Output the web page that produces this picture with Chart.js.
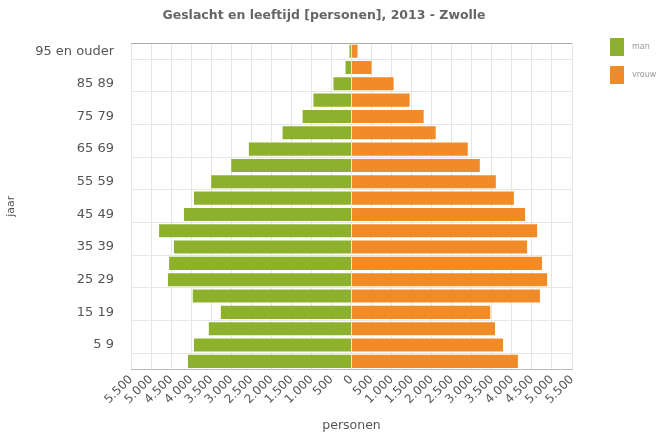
<!DOCTYPE html>
<html>
<head>
<meta charset="utf-8">
<script src="https://cdn.jsdelivr.net/npm/chart.js@4/dist/chart.umd.min.js"></script>
<style>
  html, body { margin: 0; padding: 0; background: #fff; }
  #wrap { width: 665px; height: 436px; }
</style>
</head>
<body>
<div id="wrap"><canvas id="chart1"></canvas></div>
<script>
// leeftijdsgroepen, van jong naar oud
var ageGroups = ['0 4', '5 9', '10 14', '15 19', '20 24', '25 29', '30 34', '35 39', '40 44', '45 49',
  '50 54', '55 59', '60 64', '65 69', '70 74', '75 79', '80 84', '85 89', '90 94', '95 en ouder']
var men = [4080, 3930, 3560, 3260, 3960, 4580, 4550, 4430, 4800, 4180,
  3930, 3500, 3000, 2560, 1720, 1220, 950, 450, 150, 50]
var women = [4150, 3780, 3580, 3460, 4700, 4880, 4750, 4380, 4630, 4330,
  4050, 3600, 3200, 2900, 2100, 1800, 1450, 1050, 500, 150]
var xTicks = [-5500, -5000, -4500, -4000, -3500, -3000, -2500, -2000, -1500, -1000, -500, 0,
  500, 1000, 1500, 2000, 2500, 3000, 3500, 4000, 4500, 5000, 5500]

var fmt = function (v) {
  return Math.abs(v).toString().replace(/\B(?=(\d{3})+(?!\d))/g, '.')
}

var data1 = {
  labels: ageGroups,
  datasets: [
    {
      label: 'man',
      data: men.map(function (v) { return -v }),
      backgroundColor: '#8db12c',
      borderWidth: 0,
      barPercentage: 0.8,
      categoryPercentage: 1
    },
    {
      label: 'vrouw',
      data: women,
      backgroundColor: '#f18b28',
      borderWidth: 0,
      barPercentage: 0.8,
      categoryPercentage: 1
    }
  ]
}

// legenda rechts + lijn boven het plotgebied
var extras = {
  id: 'extras',
  afterDraw: function (chart) {
    var c = chart.ctx
    var a = chart.chartArea
    c.save()
    c.strokeStyle = '#aaa'
    c.lineWidth = 1
    c.beginPath()
    c.moveTo(a.left, a.top + 0.5)
    c.lineTo(a.right, a.top + 0.5)
    c.stroke()
    c.font = '8px "DejaVu Sans"'
    c.textBaseline = 'middle'
    chart.data.datasets.forEach(function (ds, i) {
      var y = 47 + i * 28
      c.fillStyle = ds.backgroundColor
      c.fillRect(610, y - 9, 14, 18)
      c.fillStyle = '#999'
      c.fillText(ds.label, 632, y)
    })
    c.restore()
  }
}

var ctx1 = document.getElementById('chart1').getContext('2d')
var myChart1 = new Chart(ctx1, {
  type: 'bar',
  data: data1,
  plugins: [extras],
  options: {
    indexAxis: 'y',
    responsive: true,
    maintainAspectRatio: false,
    animation: false,
    layout: { padding: { left: 5, right: 22, top: 4, bottom: 3 } },
    plugins: {
      title: {
        display: true,
        text: 'Geslacht en leeftijd [personen], 2013 - Zwolle',
        color: '#666',
        font: { family: 'DejaVu Sans', size: 12.5, weight: 'bold' },
        padding: { top: 4, bottom: 20 }
      },
      legend: { display: false },
      tooltip: { enabled: false }
    },
    scales: {
      x: {
        stacked: true,
        min: -5500,
        max: 5500,
        afterBuildTicks: function (axis) {
          axis.ticks = xTicks.map(function (v) { return { value: v } })
        },
        ticks: {
          autoSkip: false,
          callback: function (v) { return fmt(v) },
          maxRotation: 45,
          minRotation: 45,
          color: '#555',
          font: { family: 'DejaVu Sans', size: 12 }
        },
        grid: { color: '#e6e6e6', drawTicks: false },
        border: { color: '#bbb' },
        title: {
          display: true,
          text: 'personen',
          color: '#555',
          font: { family: 'DejaVu Sans', size: 12.5 },
          padding: { top: 8, bottom: 0 }
        }
      },
      y: {
        stacked: true,
        reverse: true,
        ticks: {
          autoSkip: false,
          color: '#555',
          font: { family: 'DejaVu Sans', size: 13 },
          padding: 17,
          callback: function (v, i) { return i % 2 === 1 ? ageGroups[i] : '' }
        },
        grid: {
          drawTicks: false,
          color: function (c) { return c.index % 2 === 1 ? '#e6e6e6' : 'rgba(0,0,0,0)' }
        },
        border: { display: false },
        title: {
          display: true,
          text: 'jaar',
          color: '#555',
          font: { family: 'DejaVu Sans', size: 11 },
          padding: { top: 0, bottom: 0 }
        }
      },
      // lege as rechts: ruimte voor de legenda
      spacer: {
        axis: 'y',
        position: 'right',
        display: true,
        ticks: { display: false },
        grid: { display: false },
        border: { display: false },
        afterFit: function (axis) { axis.width = 71 }
      }
    }
  }
})
</script>
</body>
</html>
